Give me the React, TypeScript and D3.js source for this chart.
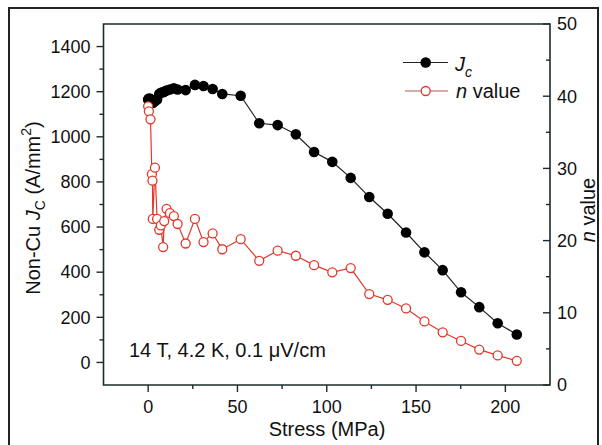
import React from "react";
import * as d3 from "d3";

const stress = [0, 0.4, 1.3, 2.1, 2.4, 2.6, 3.8, 5.0, 6.2, 7.1, 8.4, 9.0, 10.3, 12.2, 14.4, 16.5, 21.0, 26.2, 31.0, 36.1, 41.5, 51.8, 62.2, 72.5, 82.7, 92.9, 103.1, 113.4, 123.8, 134.1, 144.4, 154.7, 164.9, 175.2, 185.4, 195.7, 206.4];
const jc = [1165, 1170, 1168, 1160, 1155, 1150, 1158, 1165, 1190, 1195, 1198, 1200, 1205, 1210, 1215, 1210, 1207, 1230, 1225, 1212, 1190, 1182, 1060, 1052, 1011, 933, 889, 818, 733, 659, 576, 488, 409, 311, 245, 174, 124];
const nValue = [38.6, 37.9, 36.8, 29.2, 28.3, 23.0, 30.1, 23.0, 21.5, 22.1, 19.1, 22.7, 24.4, 23.8, 23.4, 22.3, 19.6, 23.0, 19.8, 21.0, 18.8, 20.2, 17.2, 18.6, 17.9, 16.6, 15.6, 16.2, 12.6, 11.8, 10.6, 8.8, 7.3, 6.1, 4.9, 4.1, 3.35];

const xMajor = [0, 50, 100, 150, 200];
const xMinor = [25, 75, 125, 175];
const yLMajor = [0, 200, 400, 600, 800, 1000, 1200, 1400];
const yLMinor = [100, 300, 500, 700, 900, 1100, 1300];
const yRMajor = [0, 10, 20, 30, 40, 50];
const yRMinor = [5, 15, 25, 35, 45];

const W = 602, H = 445;
const L = 103.5, R = 550, T = 24, B = 385;
const AX = "#1c2b2b";
const RED = "#e0392b";
const FONT = "Liberation Sans, Arial, sans-serif";

export default function App() {
  const x = d3.scaleLinear().domain([-25, 225]).range([L, R]);
  const yL = d3.scaleLinear().domain([-100, 1500]).range([B, T]);
  const yR = d3.scaleLinear().domain([0, 50]).range([B, T]);

  const jcPts = stress.map((s, i) => [x(s), yL(jc[i])] as [number, number]);
  const nPts = stress.map((s, i) => [x(s), yR(nValue[i])] as [number, number]);
  const line = d3.line();

  return (
    <svg width={W} height={H} style={{ position: "absolute", left: 0, top: 0, background: "#fff" }} fontFamily={FONT}>
      <rect x={0} y={0} width={W} height={H} fill="#fff" />
      <rect x={9} y={8} width={589} height={470} fill="none" stroke="#222" strokeWidth={2} />

      {/* frame */}
      <path d={`M${L},${T}H${R}V${B}H${L}Z`} fill="none" stroke={AX} strokeWidth={1.6} />

      {/* left ticks */}
      {yLMajor.map((v) => (
        <g key={"lm" + v}>
          <line x1={L - 7} x2={L} y1={yL(v)} y2={yL(v)} stroke={AX} strokeWidth={1.4} />
          <text x={L - 13} y={yL(v)} dy="0.35em" textAnchor="end" fontSize={18} fill="#111">{v}</text>
        </g>
      ))}
      {yLMinor.map((v) => (
        <line key={"ln" + v} x1={L - 4} x2={L} y1={yL(v)} y2={yL(v)} stroke={AX} strokeWidth={1.4} />
      ))}

      {/* bottom ticks */}
      {xMajor.map((v) => (
        <g key={"xm" + v}>
          <line x1={x(v)} x2={x(v)} y1={B} y2={B + 7} stroke={AX} strokeWidth={1.4} />
          <text x={x(v)} y={413} textAnchor="middle" fontSize={18} fill="#111">{v}</text>
        </g>
      ))}
      {xMinor.map((v) => (
        <line key={"xn" + v} x1={x(v)} x2={x(v)} y1={B} y2={B + 4} stroke={AX} strokeWidth={1.4} />
      ))}

      {/* right ticks */}
      {yRMajor.map((v) => (
        <g key={"rm" + v}>
          <line x1={R - 7} x2={R} y1={yR(v)} y2={yR(v)} stroke={AX} strokeWidth={1.4} />
          <text x={557} y={yR(v)} dy="0.35em" textAnchor="start" fontSize={18} fill="#111">{v}</text>
        </g>
      ))}
      {yRMinor.map((v) => (
        <line key={"rn" + v} x1={R - 4} x2={R} y1={yR(v)} y2={yR(v)} stroke={AX} strokeWidth={1.4} />
      ))}

      {/* axis titles */}
      <text x={327} y={436} textAnchor="middle" fontSize={20} fill="#111">Stress (MPa)</text>
      <text transform="translate(40,208) rotate(-90)" textAnchor="middle" fontSize={20} fill="#111">
        Non-Cu <tspan fontStyle="italic">J</tspan>
        <tspan fontSize={14} dy={5}>C</tspan>
        <tspan dy={-5}> (A/mm</tspan>
        <tspan fontSize={14} dy={-9}>2</tspan>
        <tspan dy={9}>)</tspan>
      </text>
      <text transform="translate(595,210) rotate(-90)" textAnchor="middle" fontSize={20} fill="#111">
        <tspan fontStyle="italic">n</tspan> value
      </text>

      {/* Jc series */}
      <path d={line(jcPts) || ""} fill="none" stroke="#222" strokeWidth={1.2} />
      {jcPts.map((p, i) => (
        <circle key={"jc" + i} cx={p[0]} cy={p[1]} r={5.3} fill="#000" />
      ))}

      {/* n series */}
      <path d={line(nPts) || ""} fill="none" stroke={RED} strokeWidth={1.2} />
      {nPts.map((p, i) => (
        <circle key={"n" + i} cx={p[0]} cy={p[1]} r={4.5} fill="#fff" stroke={RED} strokeWidth={1.3} />
      ))}

      {/* legend */}
      <line x1={403} x2={448} y1={62.5} y2={62.5} stroke="#222" strokeWidth={1.2} />
      <circle cx={425.7} cy={62.5} r={5.3} fill="#000" />
      <text x={455} y={71} fontSize={20} fill="#111" fontStyle="italic">J</text>
      <text x={465} y={77} fontSize={14} fill="#111" fontStyle="italic">c</text>
      <line x1={405} x2={448} y1={91} y2={91} stroke="#b05a55" strokeWidth={1.2} />
      <circle cx={425.7} cy={91} r={4.5} fill="#fff" stroke={RED} strokeWidth={1.3} />
      <text x={456} y={98} fontSize={20} fill="#111">
        <tspan fontStyle="italic">n</tspan> value
      </text>

      {/* annotation */}
      <text x={129} y={357} fontSize={20} fill="#111">14 T, 4.2 K, 0.1 μV/cm</text>
    </svg>
  );
}
